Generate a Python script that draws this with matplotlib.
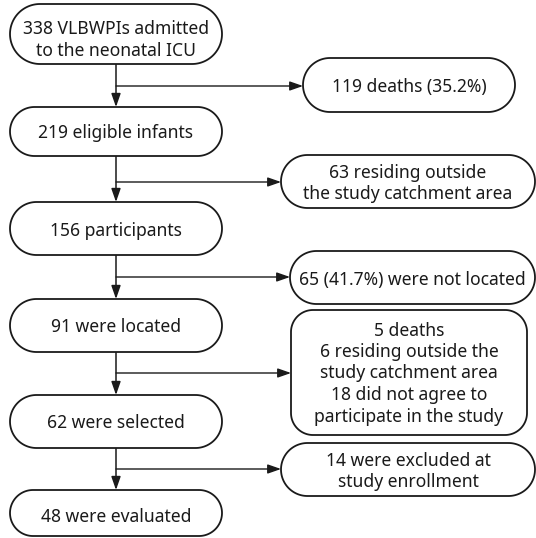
import matplotlib
matplotlib.use("Agg")
import numpy as np
import matplotlib.pyplot as plt
from matplotlib.patches import PathPatch
from matplotlib.path import Path

main_labels = [
    "338 VLBWPIs admitted\nto the neonatal ICU",
    "219 eligible infants",
    "156 participants",
    "91 were located",
    "62 were selected",
    "48 were evaluated",
]
side_labels = [
    "119 deaths (35.2%)",
    "63 residing outside\nthe study catchment area",
    "65 (41.7%) were not located",
    "5 deaths\n6 residing outside the\nstudy catchment area\n18 did not agree to\nparticipate in the study",
    "14 were excluded at\nstudy enrollment",
]

# layout (pixels)
main_y = [(4, 64), (107, 156), (202, 255), (299, 352), (395, 448), (490, 536)]
main_dy = [6, 2, 2, 2, 2, 4]
main_x = (10, 222)
branch_y = [86, 182, 277, 373, 469]
side_box = [(303, 515, 58, 112), (281, 535, 155, 208), (290, 535, 251, 304),
            (291, 527, 310, 435), (281, 535, 443, 496)]
side_dy = [2, 2, 2, 1, 2]
side_round = [None, None, None, 22, None]

FS = 12.6
FAM = ["Noto Sans", "DejaVu Sans"]
fig = plt.figure(figsize=(5.36, 5.38), dpi=100)
ax = fig.add_axes([0, 0, 1, 1])
ax.set_xlim(0, 536)
ax.set_ylim(538, 0)
ax.axis("off")


def rounded_path(x0, x1, y0, y1, r):
    pts = []
    corners = [(x1 - r, y0 + r, -90, 0), (x1 - r, y1 - r, 0, 90),
               (x0 + r, y1 - r, 90, 180), (x0 + r, y0 + r, 180, 270)]
    for cxx, cyy, a0, a1 in corners:
        t = np.radians(np.linspace(a0, a1, 30))
        pts += list(zip(cxx + r * np.cos(t), cyy + r * np.sin(t)))
    pts.append(pts[0])
    return Path(pts)


def box(x0, x1, y0, y1, text, dy, r=None):
    h = y1 - y0
    rr = h / 2 if r is None else r
    p = PathPatch(rounded_path(x0, x1, y0, y1, rr), fc="white", ec="#1a1a1a",
                  lw=1.3, zorder=2)
    ax.add_patch(p)
    ax.text((x0 + x1) / 2, (y0 + y1) / 2 + dy, text, ha="center", va="center",
            fontsize=FS, color="#1a1a1a", linespacing=1.25, zorder=3,
            family=FAM)


cx = (main_x[0] + main_x[1]) / 2
astyle = "-|>,head_length=0.8,head_width=0.28"
for (y0, y1), t, dy in zip(main_y, main_labels, main_dy):
    box(main_x[0], main_x[1], y0, y1, t, dy)

for i, ((x0, x1, y0, y1), t, r, dy) in enumerate(zip(side_box, side_labels, side_round, side_dy)):
    box(x0, x1, y0, y1, t, dy, r)
    by = branch_y[i]
    ax.annotate("", xy=(cx, main_y[i + 1][0]), xytext=(cx, main_y[i][1]),
                arrowprops=dict(arrowstyle=astyle, color="#1a1a1a", lw=1.1,
                                shrinkA=0, shrinkB=0), zorder=1)
    ax.annotate("", xy=(x0, by), xytext=(cx, by),
                arrowprops=dict(arrowstyle=astyle, color="#1a1a1a", lw=1.0,
                                shrinkA=0, shrinkB=0), zorder=1)

fig.savefig("out.png", dpi=100, facecolor="white")
